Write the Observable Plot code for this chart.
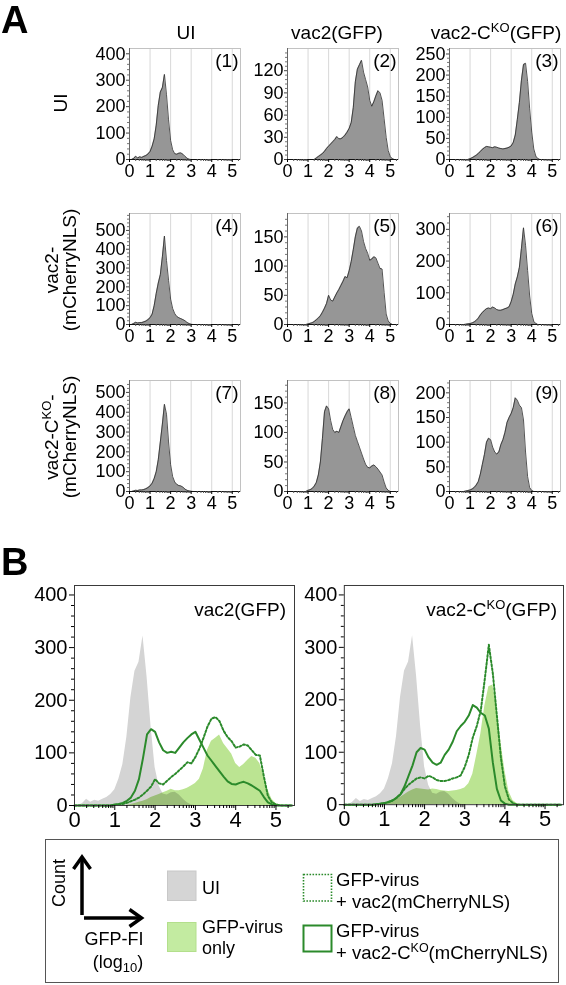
<!DOCTYPE html>
<html><head><meta charset="utf-8">
<script src="https://cdn.jsdelivr.net/npm/d3@7"></script>
<script src="https://cdn.jsdelivr.net/npm/@observablehq/plot@0.6"></script>
<style>
body{margin:0;background:#fff;}
#fig{position:relative;width:566px;height:985px;overflow:hidden;font-family:"Liberation Sans",Arial,sans-serif;}
.p{position:absolute;}
</style></head><body><div id="fig"></div>
<script>
// GFP fluorescence intensity bins (log10)
const fi = [0,0.1,0.2,0.3,0.4,0.5,0.6,0.7,0.8,0.9,1,1.1,1.2,1.3,1.4,1.5,1.6,1.7,1.8,1.9,2,2.1,2.2,2.3,2.4,2.5,2.6,2.7,2.8,2.9,3,3.1,3.2,3.3,3.4,3.5,3.6,3.7,3.8,3.9,4,4.1,4.2,4.3,4.4,4.5,4.6,4.7,4.8,4.9,5,5.1,5.2,5.3,5.4];

// (1) UI / UI
const p1_ui = [0,0,4,12,6,10,8,12,15,21,30,50,78,130,205,255,272,322,245,150,72,37,22,20,24,25,20,12,5,1,0,0,0,0,0,0,0,0,0,0,0,0,0,0,0,0,0,0,0,0,0,0,0,0,0];
// (2) UI cells + vac2(GFP)
const p2_vac2GFP = [0,0,0,0,0,0,0,0,0,0,0,0,0,0,2,4,6,8,11,15,18,21,24,27,31,28,28,30,33,37,42,50,70,105,122,128,134,118,108,98,80,72,78,86,93,90,80,55,30,12,4,1,0,0,0];
// (3) UI cells + vac2-CKO(GFP)
const p3_ckoGFP = [0,0,0,0,0,0,0,0,0,0,2,4,7,10,14,19,24,28,31,30,29,28,30,29,27,26,25,26,27,29,32,40,58,95,135,188,225,228,185,120,65,25,8,2,0,0,0,0,0,0,0,0,0,0,0];
// (4) vac2(mCherryNLS) / UI
const p4_mch = [0,0,5,12,8,10,10,14,18,26,36,55,100,165,220,265,360,470,340,235,135,85,58,43,36,31,26,20,11,5,1,0,0,0,0,0,0,0,0,0,0,0,0,0,0,0,0,0,0,0,0,0,0,0,0];
// (5) vac2(mCherryNLS) + vac2(GFP)
const p5_vac2_vac2 = [0,0,0,0,0,0,0,0,0,0,1,2,3,5,8,11,15,21,28,36,50,42,40,47,54,60,67,74,82,80,92,108,128,150,165,168,160,142,130,122,110,112,116,114,105,96,95,55,18,6,2,0,0,0,0];
// (6) vac2(mCherryNLS) + vac2-CKO(GFP)
const p6_vac2_cko = [0,0,0,0,0,0,0,0,1,2,3,5,8,13,20,30,38,44,50,52,50,55,52,47,45,45,47,50,52,56,72,95,128,150,180,240,305,250,170,90,35,10,3,0,0,0,0,0,0,0,0,0,0,0,0];
// (7) vac2-CKO(mCherryNLS) / UI
const p7_ckoMch = [0,0,3,6,5,8,8,10,14,20,28,42,65,100,160,250,340,440,390,250,135,75,48,36,30,28,22,12,6,3,1,0,0,0,0,0,0,0,0,0,0,0,0,0,0,0,0,0,0,0,0,0,0,0,0];
// (8) vac2-CKO(mCherryNLS) + vac2(GFP)
const p8_cko_vac2 = [0,0,0,0,0,0,0,0,0,0,2,3,5,9,15,28,50,90,135,145,140,120,105,100,102,100,110,120,128,135,140,125,110,95,85,75,65,55,46,41,40,43,45,42,38,33,28,16,6,2,0,0,0,0,0];
// (9) vac2-CKO(mCherryNLS) + vac2-CKO(GFP)
const p9_cko_cko = [0,0,0,0,0,0,0,0,1,2,3,5,8,13,20,35,55,75,100,108,105,90,80,76,80,95,105,120,140,150,158,170,190,185,175,170,145,80,30,8,2,0,0,0,0,0,0,0,0,0,0,0,0,0,0];

// y scale tops and tick labels
const yTops = [420,150,263, 590,190,350, 560,188,225];
const yTickSets = [
  [0,100,200,300,400],[0,30,60,90,120],[0,50,100,150,200,250],
  [0,100,200,300,400,500],[0,50,100,150],[0,100,200,300],
  [0,100,200,300,400,500],[0,50,100,150],[0,50,100,150,200]
];
const xTicks = [0,1,2,3,4,5];
const panelTags = ["(1)","(2)","(3)","(4)","(5)","(6)","(7)","(8)","(9)"];
const bTicksY = [0,100,200,300,400];
const bTitles = ["vac2(GFP)", "vac2-CKO(GFP)"];

const FONT = "Liberation Sans, Arial, sans-serif";
const fig = document.getElementById("fig");
function place(el, left, top){
  const d = document.createElement("div");
  d.className = "p"; d.style.left = left + "px"; d.style.top = top + "px";
  d.appendChild(el); fig.appendChild(d);
}
const minorLog = d3.range(0,6).flatMap(n => d3.range(2,10).map(k => n + Math.log10(k)));
const rows = s => fi.map((x,i) => ({x, y: s[i]}));

function small(series, yMax, yTicks, tag, frameLeft, frameTop){
  const data = rows(series);
  const step = (yTicks[1]-yTicks[0])/5;
  const minorY = d3.range(0, yMax, step).filter(v => !yTicks.includes(v));
  const ML=45, MR=3, MT=3, MB=26, W=111, H=111;
  const chart = Plot.plot({
    width: ML+W+MR, height: MT+H+MB,
    marginLeft: ML, marginRight: MR, marginTop: MT, marginBottom: MB,
    style: {background:"transparent", overflow:"visible", fontFamily: FONT},
    x: {domain:[0,5.4], label:null},
    y: {domain:[0,yMax], label:null},
    marks: [
      Plot.ruleX([1,2,3,4,5], {stroke:"#d8d8d8"}),
      Plot.areaY(data, {x:"x", y:"y", fill:"#969696"}),
      Plot.lineY(data, {x:"x", y:"y", stroke:"#2a2a2a", strokeWidth:0.8}),
      Plot.frame({stroke:"#c2c2c2"}),
      Plot.ruleX([0], {stroke:"#666"}),
      Plot.ruleY([0], {stroke:"#111"}),
      Plot.axisY(minorY, {tickSize:2, fill:"none", stroke:"#777", label:null}),
      Plot.axisY(yTicks, {tickSize:3, tickPadding:1, fontSize:18, stroke:"#444", label:null}),
      Plot.axisX(minorLog.filter(v => v <= 5.4), {tickSize:2, fill:"none", stroke:"#555", label:null}),
      Plot.axisX(xTicks, {tickSize:3, tickPadding:2, fontSize:18, label:null}),
      Plot.text([tag], {text: d => d, frameAnchor:"top-right", dx:-2, dy:5, fontSize:19})
    ]
  });
  place(chart, frameLeft-ML, frameTop-MT);
}

const series = [p1_ui,p2_vac2GFP,p3_ckoGFP,p4_mch,p5_vac2_vac2,p6_vac2_cko,p7_ckoMch,p8_cko_vac2,p9_cko_cko];
const colLefts = [129, 287, 449];
const rowTops = [48, 213, 380];
series.forEach((s,i) => small(s, yTops[i], yTickSets[i], panelTags[i], colLefts[i%3], rowTops[Math.floor(i/3)]));

function big(uiS, gfpS, dottedS, solidS, frameLeft, frameTop){
  const ML=50, MR=3, MT=3, MB=34, W=220, H=220;
  const minorY = d3.range(0, 418, 20).filter(v => !bTicksY.includes(v));
  const chart = Plot.plot({
    width: ML+W+MR, height: MT+H+MB,
    marginLeft: ML, marginRight: MR, marginTop: MT, marginBottom: MB,
    style: {background:"transparent", overflow:"visible", fontFamily: FONT},
    x: {domain:[0,5.46], label:null},
    y: {domain:[0,418], label:null},
    marks: [
      Plot.areaY(rows(uiS), {x:"x", y:"y", fill:"#d4d4d4"}),
      Plot.areaY(rows(gfpS), {x:"x", y:"y", fill:"#bbe492", mixBlendMode:"multiply"}),
      Plot.lineY(rows(dottedS), {x:"x", y:"y", stroke:"#2b8a2b", strokeWidth:2, strokeDasharray:"2,2"}),
      Plot.lineY(rows(solidS), {x:"x", y:"y", stroke:"#2b8a2b", strokeWidth:2}),
      Plot.frame({stroke:"#3a3a3a"}),
      Plot.axisY(minorY, {tickSize:3, fill:"none", label:null}),
      Plot.axisY(bTicksY, {tickSize:5, tickPadding:2, fontSize:20, label:null}),
      Plot.axisX(minorLog.filter(v => v <= 5.46), {tickSize:3, fill:"none", label:null}),
      Plot.axisX(xTicks, {tickSize:5, tickPadding:1, fontSize:22, label:null})
    ]
  });
  place(chart, frameLeft-ML, frameTop-MT);
}
big(p1_ui, p2_vac2GFP, p5_vac2_vac2, p8_cko_vac2, 74, 585);
big(p1_ui, p3_ckoGFP, p6_vac2_cko, p9_cko_cko, 344, 585);

// overlay: titles, row labels, legend
const G = "#2b8a2b";
const ov = `
<svg width="566" height="985" style="position:absolute;left:0;top:0;pointer-events:none" font-family="${FONT}" fill="#000">
 <text x="1" y="33" font-size="38" font-weight="bold">A</text>
 <text x="1" y="575" font-size="38" font-weight="bold">B</text>
 <g font-size="19" text-anchor="middle">
  <text x="186" y="39">UI</text>
  <text x="337" y="39">vac2(GFP)</text>
  <text x="496" y="39">vac2-C<tspan font-size="13" dy="-7">KO</tspan><tspan dy="7">(GFP)</tspan></text>
  <text transform="translate(67,103) rotate(-90)">UI</text>
  <text transform="translate(58,270) rotate(-90)">vac2-</text>
  <text transform="translate(76,270) rotate(-90)">(mCherryNLS)</text>
  <text transform="translate(58,437) rotate(-90)">vac2-C<tspan font-size="13" dy="-7">KO</tspan><tspan dy="7">-</tspan></text>
  <text transform="translate(76,437) rotate(-90)">(mCherryNLS)</text>
 </g>
 <g font-size="19" text-anchor="end">
  <text x="286" y="616">${bTitles[0]}</text>
  <text x="557" y="616">vac2-C<tspan font-size="13" dy="-7">KO</tspan><tspan dy="7">(GFP)</tspan></text>
 </g>
 <rect x="45.5" y="839.5" width="513" height="143" fill="none" stroke="#555" stroke-width="1"/>
 <g stroke="#000" stroke-width="3.5" fill="none" stroke-linejoin="miter">
  <path d="M82,915 L82,858"/>
  <path d="M73.5,869 L82,857 L90.5,869"/>
  <path d="M84,918 L141,918"/>
  <path d="M129.5,909.5 L141.5,918 L129.5,926.5"/>
 </g>
 <text transform="translate(65,883) rotate(-90)" font-size="18" text-anchor="middle">Count</text>
 <text x="114" y="945" font-size="18" text-anchor="middle">GFP-FI</text>
 <text x="118" y="968" font-size="18" text-anchor="middle">(log<tspan font-size="13" dy="4">10</tspan><tspan dy="-4">)</tspan></text>
 <rect x="167.5" y="871" width="28.5" height="29.5" fill="#d5d5d5" stroke="#c8c8c8"/>
 <rect x="167.5" y="922.5" width="28.5" height="29" fill="#c3eba1" stroke="#b3df8c"/>
 <g font-size="18">
  <text x="202" y="894">UI</text>
  <text x="202" y="933">GFP-virus</text>
  <text x="202" y="954">only</text>
 </g>
 <g font-size="18.5">
  <text x="336" y="886">GFP-virus</text>
  <text x="336" y="908">+ vac2(mCherryNLS)</text>
  <text x="336" y="937">GFP-virus</text>
  <text x="336" y="959">+ vac2-C<tspan font-size="12.5" dy="-7">KO</tspan><tspan dy="7">(mCherryNLS)</tspan></text>
 </g>
 <rect x="303.5" y="874.5" width="28" height="26.5" fill="none" stroke="${G}" stroke-width="1.6" stroke-dasharray="1.6,1.4"/>
 <rect x="303.5" y="925.5" width="28" height="26" fill="none" stroke="${G}" stroke-width="2"/>
</svg>`;
fig.insertAdjacentHTML("beforeend", ov);
</script></body></html>
